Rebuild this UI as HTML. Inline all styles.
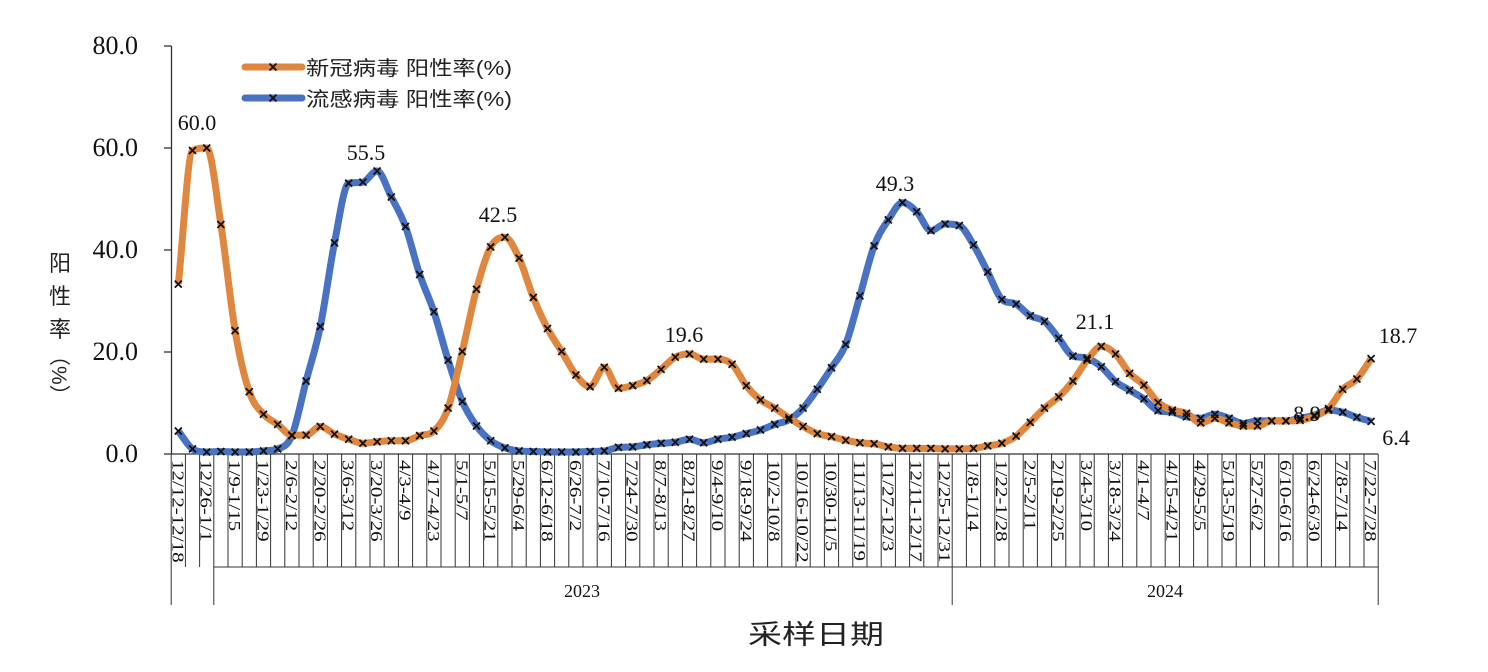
<!DOCTYPE html>
<html><head><meta charset="utf-8">
<style>
html,body{margin:0;padding:0;background:#fff;}
svg{display:block;}
.s{font-family:"Liberation Serif","Noto Serif CJK SC",serif;}
.c{font-family:"Liberation Sans","Noto Sans CJK SC",sans-serif;}
</style></head><body>
<svg id="g" width="1488" height="672" xmlns="http://www.w3.org/2000/svg"></svg>
<script>
const orange=[33.3,59.5,60.0,45.0,24.2,12.2,7.8,5.8,3.7,3.7,5.4,3.9,2.9,2.1,2.4,2.6,2.6,3.6,4.5,9.0,20.1,32.3,40.6,42.5,38.4,30.7,24.6,20.1,15.5,13.2,17.0,
12.9,13.4,14.4,16.6,19.0,19.6,18.6,18.6,17.6,13.4,10.6,9.0,7.1,5.4,4.0,3.4,2.7,2.2,2.0,1.4,1.1,1.1,1.1,1.0,1.0,1.1,1.6,2.1,3.5,6.2,9.0,
11.2,14.3,18.4,21.1,19.6,15.8,13.5,10.1,8.6,8.0,6.1,7.0,6.1,5.5,5.5,6.5,6.5,6.6,7.4,8.9,12.7,14.7,18.7];
const blue=[4.5,1.0,0.4,0.5,0.4,0.4,0.6,1.0,3.6,14.3,25.0,41.4,53.1,53.3,55.5,50.4,44.6,35.2,27.9,18.4,10.3,5.5,2.6,1.2,0.6,0.5,0.4,0.4,0.4,0.5,0.6,
1.3,1.4,1.8,2.1,2.3,2.9,2.2,2.9,3.3,4.0,4.7,5.8,6.7,9.0,12.7,16.9,21.5,31.0,40.8,45.9,49.3,47.5,43.8,45.1,44.8,41.0,35.7,30.3,29.4,27.1,26.0,
22.7,19.2,18.8,17.1,14.2,12.5,10.8,8.5,8.2,7.3,7.0,7.8,7.0,6.0,6.5,6.5,6.5,7.0,7.6,8.6,8.2,7.2,6.4];
const labels=["12/12-12/18","12/26-1/1","1/9-1/15","1/23-1/29","2/6-2/12","2/20-2/26","3/6-3/12","3/20-3/26","4/3-4/9","4/17-4/23","5/1-5/7","5/15-5/21","5/29-6/4","6/12-6/18","6/26-7/2","7/10-7/16","7/24-7/30","8/7-8/13","8/21-8/27","9/4-9/10","9/18-9/24","10/2-10/8","10/16-10/22","10/30-11/5","11/13-11/19","11/27-12/3","12/11-12/17","12/25-12/31","1/8-1/14","1/22-1/28","2/5-2/11","2/19-2/25","3/4-3/10","3/18-3/24","4/1-4/7","4/15-4/21","4/29-5/5","5/13-5/19","5/27-6/2","6/10-6/16","6/24-6/30","7/8-7/14","7/22-7/28"];
const X=i=>178.3+14.2*i, Y=v=>454-v*5.1, B=k=>171.2+14.2*k;
let h='';
h+=`<line x1="171.5" y1="46" x2="171.5" y2="454" stroke="#333" stroke-width="1.3"/>`;
for(let v=0;v<=80;v+=20){const y=Y(v);h+=`<line x1="164" y1="${y}" x2="171.5" y2="${y}" stroke="#333" stroke-width="1.3"/>`;
h+=`<text class="s" x="138" y="${y+8}" font-size="26" text-anchor="end" fill="#111">${v.toFixed(1)}</text>`;}
h+=`<line x1="171" y1="454" x2="${B(85)}" y2="454" stroke="#333" stroke-width="1.3"/>`;
for(let k=0;k<=85;k++){const x=B(k);const big=(k==0||k==3||k==55||k==85);
h+=`<line x1="${x}" y1="454" x2="${x}" y2="${big?605:567}" stroke="#333" stroke-width="1"/>`;}
h+=`<line x1="${B(3)}" y1="567" x2="${B(85)}" y2="567" stroke="#333" stroke-width="1"/>`;
labels.forEach((l,j)=>{const x=X(2*j);h+=`<text class="s" transform="translate(${x-6},460) rotate(90) scale(1.4,1.1)" font-size="15" fill="#111">${l}</text>`;});
h+=`<text class="s" x="582" y="597" font-size="18" text-anchor="middle" fill="#111">2023</text>`;
h+=`<text class="s" x="1165" y="597" font-size="18" text-anchor="middle" fill="#111">2024</text>`;
h+=`<text class="c" x="816" y="644" font-size="27" text-anchor="middle" fill="#222" textLength="136" lengthAdjust="spacingAndGlyphs">采样日期</text>`;
["阳","性","率"].forEach((c,j)=>{h+=`<text class="c" x="60" y="${271+j*33}" font-size="22" text-anchor="middle" fill="#222">${c}</text>`;});
h+=`<text class="c" transform="translate(52,345) rotate(90)" font-size="21" fill="#222">（%）</text>`;
function path(d){const n=d.length;const m=d.map((v,i)=>{if(i==0)return (d[1]-d[0]);if(i==n-1)return d[n-1]-d[n-2];
 const a=d[i]-d[i-1],b=d[i+1]-d[i];if(a*b<=0)return 0;let s=(a+b)/2;const lim=3*Math.min(Math.abs(a),Math.abs(b));
 if(Math.abs(s)>lim)s=Math.sign(s)*lim;return s;});
 let p=`M${X(0)},${Y(d[0])}`;const dx=14.2;
 for(let i=0;i<n-1;i++){p+=` C${X(i)+dx/3},${Y(d[i]+m[i]/3)} ${X(i+1)-dx/3},${Y(d[i+1]-m[i+1]/3)} ${X(i+1)},${Y(d[i+1])}`;}return p;}
function mk(x,y){return `<path d="M${x-3.5},${y-3.5}L${x+3.5},${y+3.5}M${x+3.5},${y-3.5}L${x-3.5},${y+3.5}" stroke="#111" stroke-width="1.8"/>`;}
const OC="#E0873F",BC="#4A72C2";
h+=`<path d="${path(blue)}" fill="none" stroke="${BC}" stroke-width="7" stroke-linejoin="round"/>`;
h+=`<path d="${path(orange)}" fill="none" stroke="${OC}" stroke-width="7" stroke-linejoin="round"/>`;
blue.forEach((v,i)=>h+=mk(X(i),Y(v)));orange.forEach((v,i)=>h+=mk(X(i),Y(v)));
h+=`<line x1="245" y1="67" x2="302" y2="67" stroke="${OC}" stroke-width="7" stroke-linecap="round"/>`+mk(273,67);
h+=`<line x1="245" y1="98" x2="302" y2="98" stroke="${BC}" stroke-width="7" stroke-linecap="round"/>`+mk(273,98);
h+=`<text class="c" x="306" y="75" font-size="20" fill="#222" textLength="206" lengthAdjust="spacingAndGlyphs">新冠病毒 阳性率(%)</text>`;
h+=`<text class="c" x="306" y="106" font-size="20" fill="#222" textLength="206" lengthAdjust="spacingAndGlyphs">流感病毒 阳性率(%)</text>`;
[["60.0",197,130],["55.5",366,160],["42.5",498,222],["19.6",684,342],["49.3",895,191],["21.1",1095,329],["18.7",1398,343],["8.9",1307,421],["6.4",1396,445]].forEach(a=>{
h+=`<text class="s" x="${a[1]}" y="${a[2]}" font-size="22" text-anchor="middle" fill="#111">${a[0]}</text>`;});
document.getElementById('g').innerHTML=h;
</script>
</body></html>
